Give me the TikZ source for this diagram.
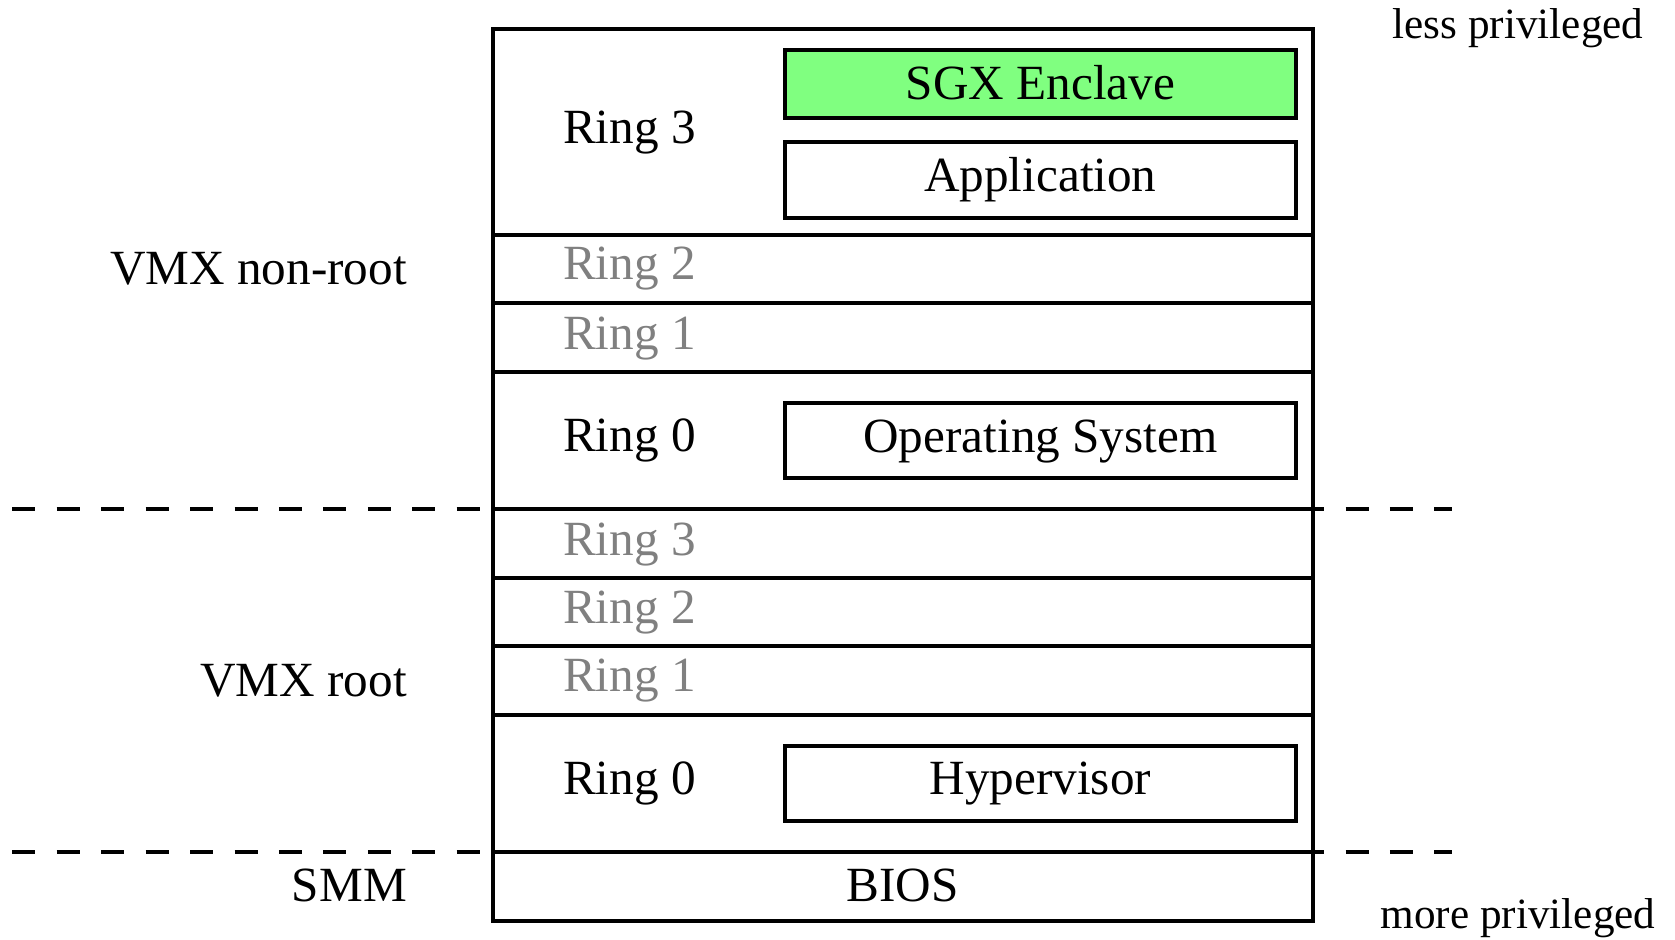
\documentclass[tikz,border=0pt]{standalone}
\usepackage{fontspec}
\setmainfont{Liberation Serif}
\definecolor{sgxgreen}{RGB}{128,255,128}
\begin{document}
\begin{tikzpicture}[x=0.5pt,y=-0.5pt,
  line width=2pt,
  rowbox/.style={draw, minimum width=410pt, inner sep=0pt, outer sep=0pt},
  inbox/.style={draw, minimum width=255.7pt, inner sep=0pt, outer sep=0pt,
    font=\fontsize{24.6}{28}\selectfont, text height=16.7pt, text depth=5.4pt},
  lbl/.style={font=\fontsize{24.6}{28}\selectfont, inner sep=0pt},
  dim/.style={lbl, text=black!50},
  side/.style={font=\fontsize{21.6}{25}\selectfont, inner sep=0pt},
  sepline/.style={line width=2pt, dash pattern=on 11.5pt off 10.72pt}]
\useasboundingbox (0,0) rectangle (1675,940);

% dashed separators
\coordinate (d1l) at (12.3,509.2);
\coordinate (d1r) at (1452,509.2);
\coordinate (d2l) at (12.3,852.2);
\coordinate (d2r) at (1452,852.2);
\draw[sepline] (d1l) -- (d1r);
\draw[sepline] (d2l) -- (d2r);

% rows
\node[rowbox, minimum height=102.9pt] (nr3) at (902.7,131.9) {};
\node[rowbox, minimum height=34.3pt] (nr2) at (902.7,269.1) {};
\node[rowbox, minimum height=34.3pt] (nr1) at (902.7,337.7) {};
\node[rowbox, minimum height=68.6pt] (nr0) at (902.7,440.6) {};
\node[rowbox, minimum height=34.3pt] (r3) at (902.7,543.5) {};
\node[rowbox, minimum height=34.3pt] (r2) at (902.7,612.1) {};
\node[rowbox, minimum height=34.3pt] (r1) at (902.7,680.7) {};
\node[rowbox, minimum height=68.6pt] (r0) at (902.7,783.6) {};
\node[rowbox, minimum height=34.3pt] (bios) at (902.7,886.5) {};

% inner boxes
\node[inbox, fill=sgxgreen, minimum height=34.3pt, text depth=1.1pt] (sgx) at (1040.4,84) {SGX Enclave};
\node[inbox, minimum height=38.3pt] (app) at (1040.4,180) {Application};
\node[inbox, minimum height=37.5pt] (os) at (1040.4,440.8) {Operating System};
\node[inbox, minimum height=37.5pt] (hyp) at (1040.4,783.5) {Hypervisor};

% ring labels
\node[lbl, anchor=base west] (lnr3) at (561,143.3) {Ring 3};
\node[dim, anchor=base west] (lnr2) at (561,280) {Ring 2};
\node[dim, anchor=base west] (lnr1) at (561,350) {Ring 1};
\node[lbl, anchor=base west] (lnr0) at (561,451.7) {Ring 0};
\node[dim, anchor=base west] (lr3) at (561,556) {Ring 3};
\node[dim, anchor=base west] (lr2) at (561,623.3) {Ring 2};
\node[dim, anchor=base west] (lr1) at (561,691.7) {Ring 1};
\node[lbl, anchor=base west] (lr0) at (561,794.3) {Ring 0};
\node[lbl, anchor=base] (lbios) at (902.7,901.7) {BIOS};

% mode labels
\node[lbl, anchor=base east] (vmxnr) at (408.8,285) {VMX non-root};
\node[lbl, anchor=base east] (vmxr) at (408.8,696) {VMX root};
\node[lbl, anchor=base east] (smm) at (408.8,901.7) {SMM};

% privilege labels
\node[side, anchor=base] (less) at (1518,38.3) {less privileged};
\node[side, anchor=base] (more) at (1518,928.3) {more privileged};
\end{tikzpicture}
\end{document}
